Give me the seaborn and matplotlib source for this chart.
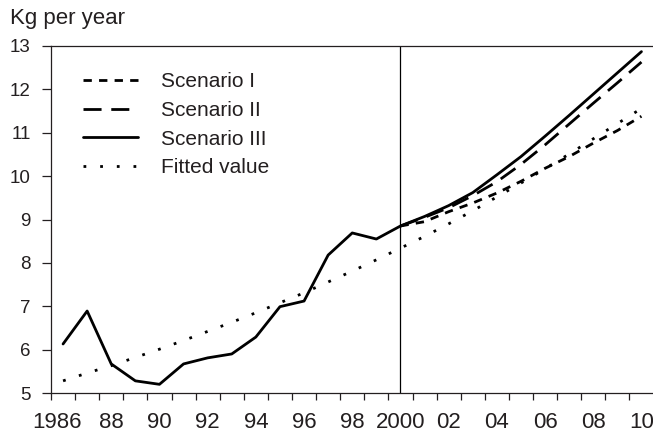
import numpy as np
import pandas as pd
import matplotlib
matplotlib.use("Agg")
import matplotlib.pyplot as plt
import matplotlib.transforms as mtransforms
from matplotlib.lines import Line2D
import seaborn as sns

# ---- data ----
hist_years = list(range(1986, 2001))
hist_values = [6.13, 6.89, 5.67, 5.28, 5.20, 5.67, 5.81, 5.90, 6.29, 6.99, 7.12, 8.18, 8.69, 8.55, 8.85]

proj_years = list(range(2000, 2011))
scenario_1 = [8.85, 8.95, 9.18, 9.38, 9.61, 9.88, 10.18, 10.45, 10.76, 11.05, 11.38]
scenario_2 = [8.85, 9.05, 9.27, 9.55, 9.87, 10.27, 10.72, 11.20, 11.68, 12.15, 12.63]
scenario_3 = [8.85, 9.07, 9.32, 9.62, 10.03, 10.45, 10.92, 11.40, 11.89, 12.38, 12.87]

fit_years = list(range(1986, 2011))
fitted = [5.28, 5.46, 5.63, 5.82, 6.01, 6.21, 6.42, 6.63, 6.85, 7.08, 7.31, 7.56, 7.81,
          8.07, 8.34, 8.61, 8.90, 9.20, 9.52, 9.84, 10.17, 10.51, 10.86, 11.21, 11.56]

xtick_years = [1986, 1988, 1990, 1992, 1994, 1996, 1998, 2000, 2002, 2004, 2006, 2008, 2010]
xtick_labels = ["1986", "88", "90", "92", "94", "96", "98", "2000", "02", "04", "06", "08", "10"]
ytick_values = [5, 6, 7, 8, 9, 10, 11, 12, 13]
legend_labels = ["Scenario I", "Scenario II", "Scenario III", "Fitted value"]

# ---- style ----
sns.set_style("ticks")
plt.rcParams["font.family"] = ["Liberation Sans", "DejaVu Sans"]
TXT = "#231f20"
LW = 2.0
ls_s1 = (0, (3.0, 2.6))
ls_s2 = (0, (6.5, 3.5))
ls_fit = (0, (1.0, 5.0))

fig = plt.figure(figsize=(6.53, 4.34), dpi=100)
ax = fig.add_axes([51 / 653, 1 - 393 / 434, (653.5 - 51) / 653, 347 / 434])

# historical + scenario III (solid)
df3 = pd.DataFrame({"year": hist_years[:-1] + proj_years, "value": hist_values[:-1] + scenario_3})
sns.lineplot(data=df3, x="year", y="value", ax=ax, color="black", lw=LW, legend=False)
df2 = pd.DataFrame({"year": proj_years, "value": scenario_2})
sns.lineplot(data=df2, x="year", y="value", ax=ax, color="black", lw=LW, linestyle=ls_s2, legend=False)
df1 = pd.DataFrame({"year": proj_years, "value": scenario_1})
sns.lineplot(data=df1, x="year", y="value", ax=ax, color="black", lw=LW, linestyle=ls_s1, legend=False)
dff = pd.DataFrame({"year": fit_years, "value": fitted})
sns.lineplot(data=dff, x="year", y="value", ax=ax, color="black", lw=LW, linestyle=ls_fit, legend=False)

ax.axvline(2000, color="black", lw=0.9, zorder=1)

ax.set_xlim(1985.5, 2010.5)
ax.set_ylim(5, 13)
ax.set_xlabel("")
ax.set_ylabel("")

# x ticks at year boundaries, labels at year centres
ax.set_xticks(np.arange(1985.5, 2010.0, 1.0))
ax.set_xticklabels([])
ax.set_xticks(xtick_years, minor=True)
ax.set_xticklabels(xtick_labels, minor=True)
ax.tick_params(axis="x", which="major", direction="out", length=5, width=0.9, color=TXT)
ax.tick_params(axis="x", which="minor", length=0, pad=14, labelsize=16, labelcolor=TXT)
ax.set_yticks(ytick_values)
ax.tick_params(axis="y", direction="out", length=6.5, width=0.9, color=TXT,
               pad=8, labelsize=13.5, labelcolor=TXT)

# shift "1986" a bit to the left as in the reference
lbl = ax.get_xticklabels(minor=True)[0]
lbl.set_transform(lbl.get_transform() + mtransforms.ScaledTranslation(-6 / 100, 0, fig.dpi_scale_trans))

for s in ["left", "bottom", "top"]:
    ax.spines[s].set_visible(True)
    ax.spines[s].set_linewidth(0.9)
    ax.spines[s].set_color(TXT)
ax.spines["right"].set_visible(False)

handles = [
    Line2D([], [], color="black", lw=LW, linestyle=ls_s1),
    Line2D([], [], color="black", lw=LW, linestyle=ls_s2),
    Line2D([], [], color="black", lw=LW),
    Line2D([], [], color="black", lw=LW, linestyle=ls_fit),
]
leg = ax.legend(handles, legend_labels, loc="upper left",
                bbox_to_anchor=(83 / 653, 1 - 72 / 434), bbox_transform=fig.transFigure,
                frameon=False, fontsize=15, handlelength=2.65, handletextpad=1.1,
                labelspacing=0.47, borderpad=0, borderaxespad=0)
for t in leg.get_texts():
    t.set_color(TXT)

fig.text(10 / 653, 1 - 24 / 434, "Kg per year", ha="left", va="baseline", fontsize=16, color=TXT)

fig.savefig("out.png", dpi=100)
